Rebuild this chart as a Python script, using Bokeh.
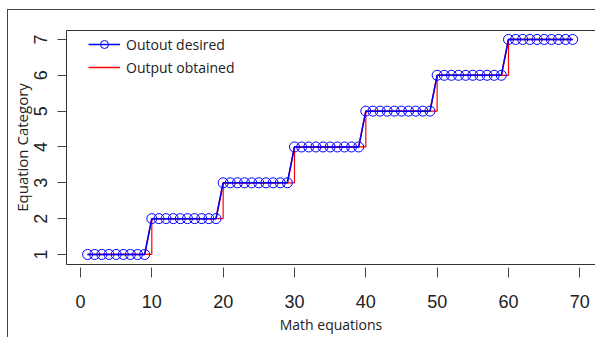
from bokeh.plotting import figure
from bokeh.models import Range1d, FixedTicker, Legend, LegendItem
from bokeh.embed import file_html
from bokeh.resources import INLINE

# ---- data ----
equations = [1, 2, 3, 4, 5, 6, 7, 8, 9,
             10, 11, 12, 13, 14, 15, 16, 17, 18, 19,
             20, 21, 22, 23, 24, 25, 26, 27, 28, 29,
             30, 31, 32, 33, 34, 35, 36, 37, 38, 39,
             40, 41, 42, 43, 44, 45, 46, 47, 48, 49,
             50, 51, 52, 53, 54, 55, 56, 57, 58, 59,
             60, 61, 62, 63, 64, 65, 66, 67, 68, 69]
output_desired = [1, 1, 1, 1, 1, 1, 1, 1, 1,
                  2, 2, 2, 2, 2, 2, 2, 2, 2, 2,
                  3, 3, 3, 3, 3, 3, 3, 3, 3, 3,
                  4, 4, 4, 4, 4, 4, 4, 4, 4, 4,
                  5, 5, 5, 5, 5, 5, 5, 5, 5, 5,
                  6, 6, 6, 6, 6, 6, 6, 6, 6, 6,
                  7, 7, 7, 7, 7, 7, 7, 7, 7, 7]
output_obtained = [1, 1, 1, 1, 1, 1, 1, 1, 1,
                   2, 2, 2, 2, 2, 2, 2, 2, 2, 2,
                   3, 3, 3, 3, 3, 3, 3, 3, 3, 3,
                   4, 4, 4, 4, 4, 4, 4, 4, 4, 4,
                   5, 5, 5, 5, 5, 5, 5, 5, 5, 5,
                   6, 6, 6, 6, 6, 6, 6, 6, 6, 6,
                   7, 7, 7, 7, 7, 7, 7, 7, 7, 7]
x_ticks = [0, 10, 20, 30, 40, 50, 60, 70]
y_ticks = [1, 2, 3, 4, 5, 6, 7]

p = figure(width=588, height=328, output_backend="svg", toolbar_location=None,
           x_range=Range1d(-1.96, 72.2), y_range=Range1d(0.72, 7.25),
           min_border_left=58, min_border_top=20, min_border_right=1,
           min_border_bottom=74)
p.styles = {"margin-left": "7px", "margin-top": "9px",
            "border-left": "1px solid #444444", "border-top": "1px solid #444444"}

p.xgrid.visible = False
p.ygrid.visible = False
p.outline_line_color = "#333333"
p.outline_line_width = 1
p.background_fill_color = "white"
p.border_fill_color = "white"

# red line used for the legend key (lies under the blue line)
r_obt_key = p.line(equations, output_obtained, line_color="#ff0000", line_width=1.5)
# red step line
p.step(equations, output_obtained, mode="after", line_color="#ff0000", line_width=1.2)
# blue line + circles
r_des_line = p.line(equations, output_desired, line_color="blue", line_width=1.5)
r_des_pts = p.scatter(equations, output_desired, marker="circle", size=10,
                      fill_color=None, line_color="blue", line_width=1)

# axes
for ax in (p.xaxis[0], p.yaxis[0]):
    ax.axis_line_color = None
    ax.minor_tick_line_color = None
    ax.major_tick_line_color = "#444444"
    ax.major_label_text_color = "#222222"
    ax.axis_label_text_color = "#222222"
    ax.axis_label_text_font_style = "normal"
    ax.axis_label_text_font = "Open Sans"
    ax.major_label_text_font = "Liberation Sans"

p.xaxis.ticker = FixedTicker(ticks=x_ticks)
p.xaxis.major_tick_in = -3
p.xaxis.major_tick_out = 13
p.xaxis.major_label_standoff = 17
p.xaxis.major_label_text_font_size = "18px"
p.xaxis.axis_label = "Math equations"
p.xaxis.axis_label_text_font_size = "14px"
p.xaxis.axis_label_standoff = 4

p.yaxis.ticker = FixedTicker(ticks=y_ticks)
p.yaxis.major_tick_in = 0
p.yaxis.major_tick_out = 9
p.yaxis.major_label_standoff = 10
p.yaxis.major_label_orientation = "vertical"
p.yaxis.major_label_text_font_size = "18px"
p.yaxis.axis_label = "Equation Category"
p.yaxis.axis_label_text_font_size = "15px"
p.yaxis.axis_label_standoff = 0

legend = Legend(items=[
    LegendItem(label="Outout desired", renderers=[r_des_line, r_des_pts]),
    LegendItem(label="Output obtained", renderers=[r_obt_key]),
], location=(22, 187))
legend.padding = 0
legend.margin = 0
legend.spacing = 3
legend.label_height = 20
legend.glyph_height = 20
legend.glyph_width = 32
legend.label_standoff = 6
legend.label_text_font = "Open Sans"
legend.label_text_font_size = "14px"
legend.label_text_color = "#222222"
legend.border_line_color = None
legend.background_fill_alpha = 0
p.add_layout(legend)

open("out.html", "w").write(file_html(p, INLINE))
